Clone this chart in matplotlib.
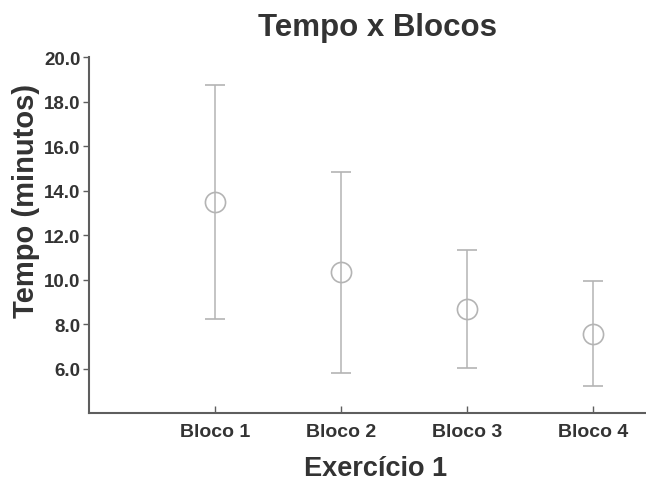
import matplotlib
matplotlib.use('Agg')
from matplotlib import pyplot as plt
import numpy as np

plt.rcParams['font.family'] = ['Liberation Sans', 'DejaVu Sans']

blocos = ['Bloco 1', 'Bloco 2', 'Bloco 3', 'Bloco 4']
media = [13.47, 10.33, 8.68, 7.57]
limite_inf = [8.24, 5.82, 6.05, 5.24]
limite_sup = [18.74, 14.83, 11.35, 9.95]
yticks = [6.0, 8.0, 10.0, 12.0, 14.0, 16.0, 18.0, 20.0]

texto = '#333333'
eixo = '#5e5e5e'
barra = '#b4b4b4'

fig = plt.figure(figsize=(6.46, 4.81), dpi=100)
ax = fig.add_axes([0.1378, 0.139, 0.8622, 0.740])

x = np.arange(1, len(blocos) + 1)
media = np.array(media)
yerr = [media - np.array(limite_inf), np.array(limite_sup) - media]

ax.errorbar(x, media, yerr=yerr, fmt='o', markersize=14.5, markerfacecolor='none',
            markeredgecolor=barra, markeredgewidth=1.2, ecolor=barra,
            elinewidth=1.1, capsize=7.2, capthick=1.1)

ax.set_xlim(0, 4.42)
ax.set_ylim(4, 20)
ax.set_xticks(x)
ax.set_xticklabels(blocos)
ax.set_yticks(yticks)
ax.set_yticklabels(['%.1f' % v for v in yticks])

for s in ['top', 'right']:
    ax.spines[s].set_visible(False)
for s in ['left', 'bottom']:
    ax.spines[s].set_color(eixo)
    ax.spines[s].set_linewidth(1.5)

ax.tick_params(axis='y', direction='out', length=4, width=1, color=eixo,
               labelsize=13.5, labelcolor=texto, pad=2)
ax.tick_params(axis='x', direction='in', length=5, width=1, color=eixo,
               labelsize=14, labelcolor=texto, pad=7)
for lbl in ax.get_xticklabels() + ax.get_yticklabels():
    lbl.set_fontweight('bold')

ax.set_xlabel('Exercício 1', fontsize=19.5, fontweight='bold', color=texto)
ax.xaxis.set_label_coords(0.515, -0.118)
ax.set_ylabel('Tempo (minutos)', fontsize=21, fontweight='bold', color=texto)
ax.yaxis.set_label_coords(-0.088, 0.60)
fig.text(0.584, 0.942, 'Tempo x Blocos', ha='center', va='center',
         fontsize=22.5, fontweight='bold', color=texto)

fig.savefig('out.png', dpi=100)
